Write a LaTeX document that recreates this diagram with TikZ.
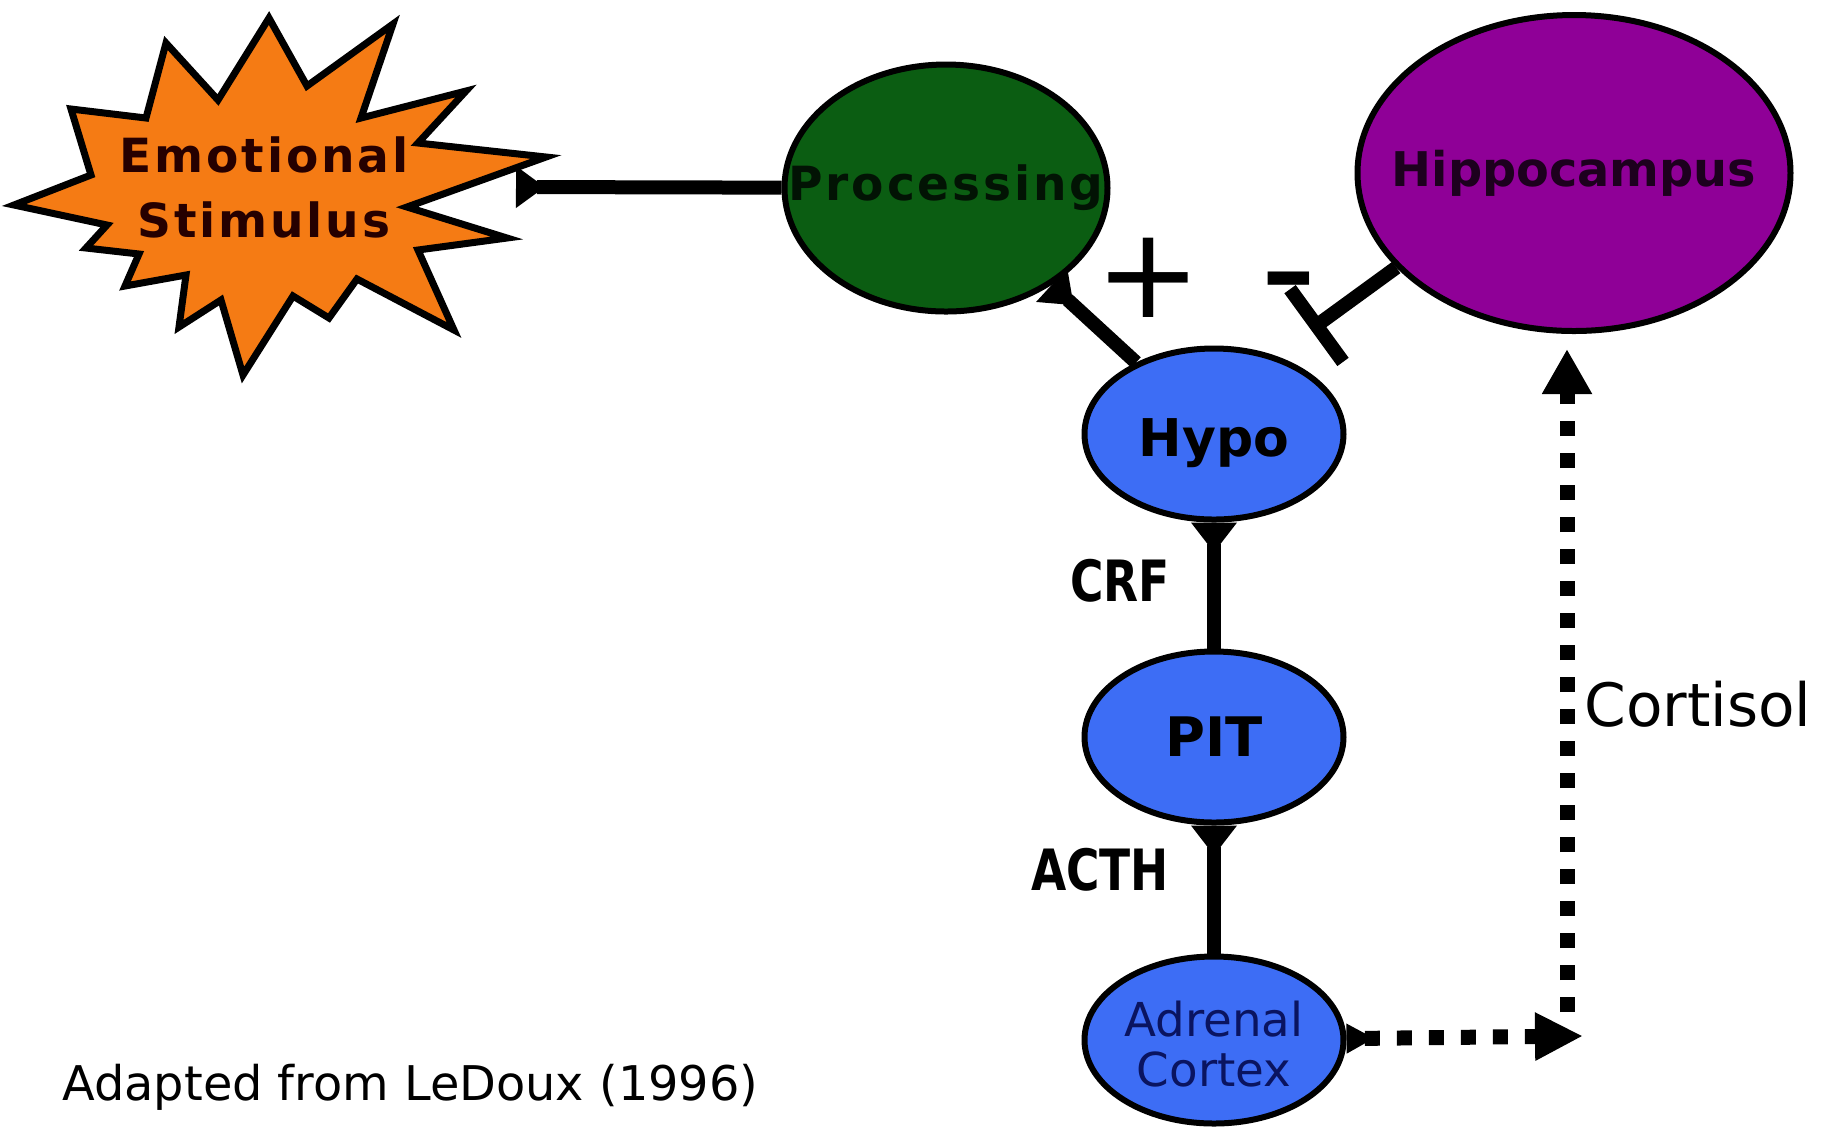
\documentclass[tikz,border=0pt]{standalone}
\usepackage{fontspec}
\setmainfont{DejaVu Sans}
\newfontfamily\squeezefont[LetterSpace=6]{DejaVu Sans}
\newfontfamily\handfont[FakeStretch=0.8]{DejaVu Sans}
\usetikzlibrary{shapes.geometric,arrows.meta}
\definecolor{stimorange}{HTML}{F57B14}
\definecolor{procgreen}{HTML}{0B5D12}
\definecolor{hippopurple}{HTML}{8F0097}
\definecolor{hpablue}{HTML}{3D6DF5}
\definecolor{adrenaltext}{HTML}{0A1460}
\newcommand{\slim}[1]{\makebox[0pt]{#1}}

\begin{document}
\begin{tikzpicture}[x=0.1mm,y=-0.1mm,node distance=3.03cm,
    main node/.style={ellipse,draw,line width=0.6mm,inner sep=0pt},
    hpa node/.style={main node,fill=hpablue,minimum width=25.9mm,minimum height=17.1mm},
    link/.style={line width=1.4mm},
    flare/.style={{Triangle[reversed,width=4.4mm,length=3mm]}-},
    inhibit/.style={link,-{Bar[width=9mm]}},
    hormone/.style={line width=1.5mm,dash pattern=on 1.5mm off 1.7mm}]

  \useasboundingbox (0,0) rectangle (1839,1132);

  % the stimulus burst
  \filldraw[fill=stimorange,line width=0.7mm,line join=miter]
    (269,18) -- (307,86) -- (393,24) -- (361,118) -- (466,91) -- (418,143)
    -- (546,157) -- (407,207) -- (507,238) -- (418,250) -- (454,330)
    -- (357,279) -- (329,318) -- (293,296) -- (243,375) -- (221,300)
    -- (179,327) -- (186,275) -- (125,286) -- (139,254) -- (86,248)
    -- (107,225) -- (14,205) -- (91,175) -- (71,109) -- (146,118)
    -- (166,43) -- (218,100) -- cycle;
  \node[font=\squeezefont\bfseries\fontsize{13.4}{18.5}\selectfont,
        align=center,text=black!85!red] (stim) at (264,187) {Emotional\\Stimulus};
  \coordinate (stimedge) at (516,187);

  \node[main node,fill=procgreen,minimum width=32.3mm,minimum height=24.7mm,
        font=\squeezefont\bfseries\fontsize{13.4}{16}\selectfont,
        text=black!80!procgreen] (proc) at (946,188) {\slim{Processing}};
  \node[main node,fill=hippopurple,minimum width=43.3mm,minimum height=31.6mm,
        font=\bfseries\fontsize{13.6}{16}\selectfont,
        text=black!80!hippopurple] (hippo) at (1574,173) {\slim{Hippocampus}};
  \node[hpa node,font=\bfseries\fontsize{14.8}{18}\selectfont] (hypo) at (1214,434)
        {\slim{\raisebox{-2.2mm}[0pt][0pt]{Hypo}}};
  \node[hpa node,font=\bfseries\fontsize{15.5}{18}\selectfont] (pit) [below of=hypo] {\slim{PIT}};
  \node[hpa node,minimum height=16.7mm,font=\fontsize{13.3}{14.2}\selectfont,
        text=adrenaltext] (adrenal) [below of=pit]
        {\slim{\raisebox{-2.4mm}[0pt][0pt]{\begin{tabular}{@{}c@{}}Adrenal\\Cortex\end{tabular}}}};

  % labels
  \node[font=\fontsize{36}{40}\selectfont] (plus) at (1148,278) {+};
  \node[font=\bfseries\fontsize{30}{34}\selectfont] (minus) at (1289,290) {–};
  \node[font=\handfont\bfseries\fontsize{16.2}{18}\selectfont] (crf) at (1120,581) {CRF};
  \node[font=\handfont\bfseries\fontsize{16.2}{18}\selectfont] (acth) at (1100,870) {ACTH};
  \node[font=\fontsize{17}{20}\selectfont,anchor=west] (cortisol) at (1572,704) {Cortisol};
  \node[font=\fontsize{13.6}{16}\selectfont,anchor=base west] (source) at (50,1100)
        {Adapted from LeDoux (1996)};

  % connectors
  \draw[link,{Triangle[reversed,width=4mm,length=2.9mm]}-] (stimedge) -- (proc);
  \draw[link,flare] (proc) -- (hypo);
  \draw[link,flare] (hypo) -- (pit);
  \draw[link,flare] (pit) -- (adrenal);
  \draw[inhibit,shorten >=4.4mm] (hippo.208) -- (hypo.52);

  \coordinate (cortcorner) at (1583,1036);
  \coordinate (cortbase) at (1567,1012);
  \draw[hormone,{Triangle[reversed,width=2.8mm,length=2.8mm]}-{Triangle[width=4.5mm,length=4.8mm]}]
    (adrenal) -- (cortcorner);
  \draw[hormone,-{Triangle[width=4.7mm,length=4.5mm]},shorten >=1.5mm]
    (cortbase) -- (cortbase |- hippo.south);
\end{tikzpicture}
\end{document}
